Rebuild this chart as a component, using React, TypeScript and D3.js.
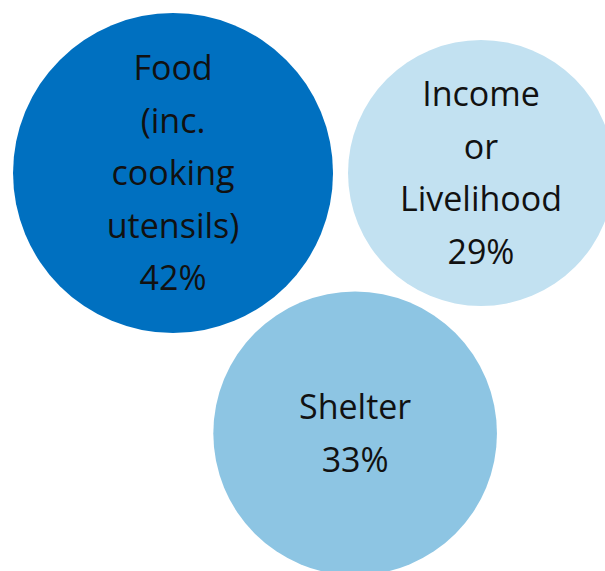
import React from "react";
import * as d3 from "d3";

const categories: string[][] = [
  ["Food", "(inc.", "cooking", "utensils)"],
  ["Income", "or", "Livelihood"],
  ["Shelter"],
];
const values: number[] = [42, 29, 33];
const colors: string[] = ["#0070C0", "#C2E1F1", "#8DC5E3"];
// bubble layout positions (normalized layout space)
const layoutX: number[] = [0.286, 0.795, 0.587];
const layoutY: number[] = [0.303, 0.303, 0.759];

const W = 605;
const H = 571;

export default function App() {
  const x = d3.scaleLinear().domain([0, 1]).range([0, W]);
  const y = d3.scaleLinear().domain([0, 1]).range([0, H]);
  const r = d3.scaleSqrt().domain([0, 42]).range([0, 160]);
  const lineH = 52.5;

  return (
    <svg
      width={W}
      height={H}
      style={{ position: "absolute", left: 0, top: 0, background: "#fff" }}
    >
      {values.map((v, i) => {
        const cx = x(layoutX[i]);
        const cy = y(layoutY[i]);
        const lines = [...categories[i], `${v}%`];
        const n = lines.length;
        return (
          <g key={i}>
            <circle cx={cx} cy={cy} r={r(v)} fill={colors[i]} />
            {lines.map((t, j) => (
              <text
                key={j}
                x={cx}
                y={cy + 12 + (j - (n - 1) / 2) * lineH}
                textAnchor="middle"
                fontFamily="'Open Sans', 'Noto Sans', sans-serif"
                fontSize={34}
                fill="#111"
              >
                {t}
              </text>
            ))}
          </g>
        );
      })}
    </svg>
  );
}
